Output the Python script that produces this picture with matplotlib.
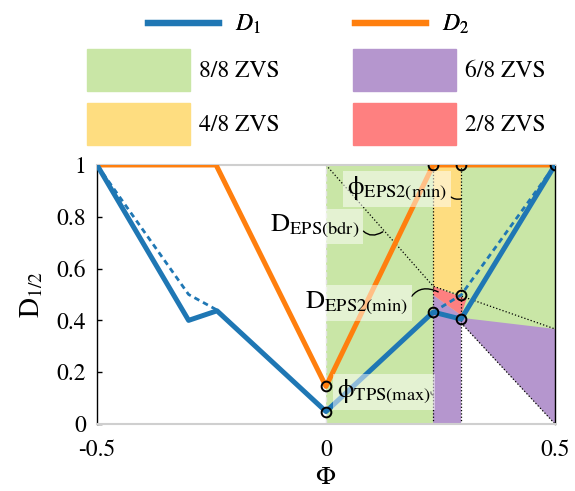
import matplotlib
matplotlib.use("Agg")
import matplotlib.pyplot as plt
from matplotlib.lines import Line2D
from matplotlib.patches import Patch

plt.rcParams["font.family"] = ["STIXGeneral", "Liberation Serif", "DejaVu Serif"]
plt.rcParams["mathtext.fontset"] = "stix"
plt.rcParams["axes.unicode_minus"] = False

# Kurven
phi_d2 = [-0.5, -0.24, 0.0, 0.234, 0.5]
d2 = [1.0, 1.0, 0.145, 1.0, 1.0]
phi_d1 = [-0.5, -0.3, -0.238, 0.0, 0.234, 0.295, 0.5]
d1 = [1.0, 0.4, 0.437, 0.048, 0.432, 0.405, 1.0]
phi_d1_alt = [-0.5, -0.3, -0.238, 0.0, 0.234, 0.295, 0.5]
d1_alt = [1.0, 0.5, 0.44, 0.048, 0.432, 0.498, 1.0]

# Markierte Punkte
mark_phi = [0.0, 0.0, 0.234, 0.295, 0.5, 0.234, 0.295, 0.295]
mark_d = [0.145, 0.048, 1.0, 1.0, 1.0, 0.432, 0.405, 0.498]

# ZVS-Bereiche
green_phi = [0.0, 0.295, 0.295, 0.5, 0.5, 0.0]
green_d = [0.0, 0.0, 0.39, 0.0, 1.0, 1.0]
yellow_phi = [0.234, 0.295, 0.295, 0.234]
yellow_d = [1.0, 1.0, 0.498, 0.532]
red_phi = [0.234, 0.307, 0.295, 0.234]
red_d = [0.532, 0.482, 0.42, 0.498]
purple1_phi = [0.234, 0.295, 0.295, 0.234]
purple1_d = [0.0, 0.0, 0.42, 0.498]
purple2_phi = [0.295, 0.5, 0.5, 0.295]
purple2_d = [0.41, 0.367, 0.0, 0.39]

# Grenzlinien (gepunktet)
bdr_phi = [0.0, 0.234, 0.5]
bdr_d = [1.0, 0.532, 0.367]
diag_phi = [0.295, 0.5]
diag_d = [0.39, 0.0]
vlines_phi = [0.234, 0.295]

blue = "#1f77b4"
orange = "#ff7f0e"
c_green = "#c9e6a6"
c_purple = "#b596ce"
c_yellow = "#fedd80"
c_red = "#fe8080"

fig = plt.figure(figsize=(5.75, 4.91), dpi=100)
ax = fig.add_axes([0.1687, 0.1365, 0.7965, 0.5275])

ax.fill(green_phi, green_d, color=c_green, lw=0, zorder=1)
ax.fill(yellow_phi, yellow_d, color=c_yellow, lw=0, zorder=1)
ax.fill(purple1_phi, purple1_d, color=c_purple, lw=0, zorder=1)
ax.fill(purple2_phi, purple2_d, color=c_purple, lw=0, zorder=1)
ax.fill(red_phi, red_d, color=c_red, lw=0, zorder=1)

ax.plot([0, 0], [0, 1], color="#e4e4e4", lw=1, ls="--", zorder=2)
ax.plot(bdr_phi, bdr_d, color="black", lw=0.9, ls=":", zorder=2)
ax.plot(diag_phi, diag_d, color="black", lw=0.9, ls=":", zorder=2)
for p in vlines_phi:
    ax.plot([p, p], [0, 1], color="black", lw=0.9, ls=":", zorder=2)

ax.plot(phi_d1_alt, d1_alt, color=blue, lw=2, ls=(0, (2, 1.5)), zorder=3)
ax.plot(phi_d2, d2, color=orange, lw=3.6, zorder=4)
ax.plot(phi_d1, d1, color=blue, lw=3.6, zorder=4)
ax.plot(mark_phi, mark_d, ls="none", marker="o", ms=7, mfc="none",
        mec="black", mew=1.4, zorder=5)

box = dict(boxstyle="square,pad=0.15", fc="white", ec="none", alpha=0.5)
arrow = dict(arrowstyle="-", lw=1, color="black", relpos=(1, 0.5),
             shrinkA=0, shrinkB=0)
ax.annotate(r"$\mathrm{\phi}_{\mathrm{EPS2(min)}}$", xy=(0.295, 0.869), xytext=(0.046, 0.907),
            fontsize=19, ha="left", va="center", bbox=box, zorder=6,
            arrowprops=dict(arrow, connectionstyle="arc3,rad=0.5"))
ax.annotate(r"$\mathrm{D}_{\mathrm{EPS(bdr)}}$", xy=(0.124, 0.742), xytext=(-0.122, 0.764),
            fontsize=19, ha="left", va="center", bbox=box, zorder=6,
            arrowprops=dict(arrow, connectionstyle="arc3,rad=0.5"))
ax.annotate(r"$\mathrm{D}_{\mathrm{EPS2(min)}}$", xy=(0.245, 0.51), xytext=(-0.046, 0.467),
            fontsize=19, ha="left", va="center", bbox=box, zorder=6,
            arrowprops=dict(arrow, connectionstyle="arc3,rad=-0.5"))
ax.annotate(r"$\mathrm{\phi}_{\mathrm{TPS(max)}}$", xy=(0.234, 0.112), xytext=(0.024, 0.124),
            fontsize=19, ha="left", va="center", bbox=box, zorder=6,
            arrowprops=dict(arrow, connectionstyle="arc3,rad=0.5"))

ax.set_xlim(-0.5, 0.5)
ax.set_ylim(0, 1)
ax.set_xticks([-0.5, 0, 0.5])
ax.set_xticklabels(["-0.5", "0", "0.5"])
ax.set_yticks([0, 0.2, 0.4, 0.6, 0.8, 1])
ax.set_yticklabels(["0", "0.2", "0.4", "0.6", "0.8", "1"])
ax.tick_params(axis="x", length=0, pad=11, labelsize=17)
ax.tick_params(axis="y", direction="in", length=3.5, width=1, pad=8, labelsize=17)

for s in ["top", "bottom"]:
    ax.spines[s].set_color("#cfcfcf")
    ax.spines[s].set_linewidth(1.5)
ax.spines["left"].set_linewidth(1)
ax.spines["right"].set_linewidth(1)

ax.set_xlabel(r"$\Phi$", fontsize=19)
ax.xaxis.set_label_coords(0.5, -0.163)
ax.set_ylabel(r"$\mathrm{D}_{1/2}$", fontsize=20)
ax.yaxis.set_label_coords(-0.112, 0.5)

# Legenden
line_handles = [Line2D([], [], color=blue, lw=4.5),
                Line2D([], [], color=orange, lw=4.5)]
leg1 = fig.legend(line_handles, [r"$D_1$", r"$D_2$"], ncol=2, frameon=False,
                  loc="upper left", bbox_to_anchor=(148 / 575, 1 - 13 / 491),
                  fontsize=17, handlelength=3.0, handletextpad=0.68,
                  columnspacing=4.0, borderpad=0, borderaxespad=0)

patch_handles = [Patch(color=c_green), Patch(color=c_yellow),
                 Patch(color=c_purple), Patch(color=c_red)]
fig.legend(patch_handles, ["8/8 ZVS", "4/8 ZVS", "6/8 ZVS", "2/8 ZVS"], ncol=2,
           frameon=False, loc="upper left", bbox_to_anchor=(87 / 575, 1 - 49 / 491),
           fontsize=17, handlelength=4.36, handleheight=2.36, handletextpad=0.38,
           labelspacing=0.5, columnspacing=3.1, borderpad=0, borderaxespad=0)
fig.add_artist(leg1)

plt.savefig("out.png", dpi=100)
